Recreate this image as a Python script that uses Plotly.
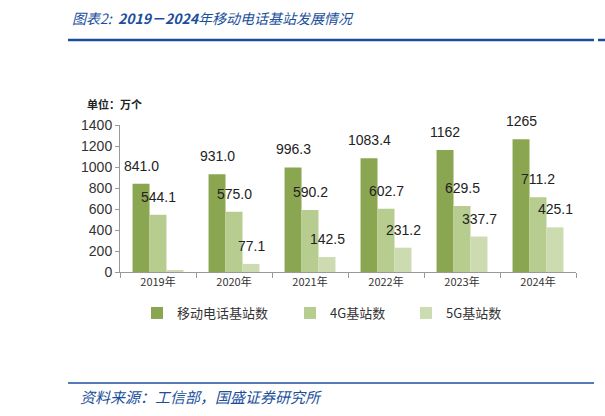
import plotly.graph_objects as go

years = ["2019年", "2020年", "2021年", "2022年", "2023年", "2024年"]
mobile = [841.0, 931.0, 996.3, 1083.4, 1162, 1265]
g4 = [544.1, 575.0, 590.2, 602.7, 629.5, 711.2]
g5 = [13, 77.1, 142.5, 231.2, 337.7, 425.1]
mobile_lbl = ["841.0", "931.0", "996.3", "1083.4", "1162", "1265"]
g4_lbl = ["544.1", "575.0", "590.2", "602.7", "629.5", "711.2"]
g5_lbl = ["", "77.1", "142.5", "231.2", "337.7", "425.1"]
names = ["移动电话基站数", "4G基站数", "5G基站数"]
colors = ["#8BA650", "#B7CD8F", "#CCDBB0"]

FONT = "Liberation Sans, Noto Sans CJK SC"
CJK = "Noto Sans CJK SC"
BLUE = "#1B4F9C"

fig = go.Figure()
series = [mobile, g4, g5]
labels = [mobile_lbl, g4_lbl, g5_lbl]
legends = ["legend", "legend2", "legend3"]
for i in range(3):
    fig.add_trace(go.Bar(x=years, y=series[i], name=names[i], marker_color=colors[i],
                         marker_line_width=0, legend=legends[i]))

shifts = [-17, 0, 17]
for i in range(3):
    for x, v, t in zip(years, series[i], labels[i]):
        if t:
            fig.add_annotation(x=x, y=v, text=t, showarrow=False, xshift=shifts[i],
                               yanchor="bottom", yshift=8,
                               font=dict(size=14, color="#222", family=FONT))

fig.update_layout(
    width=605, height=416,
    margin=dict(l=120, r=29, t=125, b=144, autoexpand=False),
    paper_bgcolor="white", plot_bgcolor="white",
    barmode="group", bargap=0.33, bargroupgap=0,
    font=dict(family=FONT, color="#333"),
    showlegend=True,
)
legend_x = [137, 290, 406]
for lg, lx in zip(legends, legend_x):
    fig.update_layout({lg: dict(x=lx / 605, y=1 - 313 / 416, xref="container", yref="container",
                                xanchor="left", yanchor="middle",
                                orientation="h", font=dict(size=13, family=CJK, color="#333"),
                                bgcolor="rgba(0,0,0,0)", itemwidth=30, tracegroupgap=0)})

fig.update_yaxes(range=[0, 1400], dtick=200, showline=True, linecolor="#999", linewidth=1,
                 ticks="outside", ticklen=4, tickcolor="#999", showgrid=False, zeroline=False,
                 automargin=False, tickfont=dict(size=14, color="#333", family=FONT))
fig.update_xaxes(showline=True, linecolor="#999", linewidth=1, ticks="outside", ticklen=5,
                 tickcolor="#999", tickson="boundaries", showgrid=False, automargin=False,
                 tickfont=dict(size=11, color="#333", family=CJK))

# header / footer
fig.add_annotation(xref="paper", yref="paper", x=-35/456, y=1 + 21/147, xanchor="left", yanchor="middle",
                   text="<b>单位：万个</b>", showarrow=False, font=dict(size=11, color="#222", family=CJK))
fig.add_annotation(xref="paper", yref="paper", x=-50/456, y=1 + (125 - 18) / 147, xanchor="left", yanchor="middle",
                   text="<i>图表2:  <b>2019－2024</b>年移动电话基站发展情况</i>", showarrow=False,
                   font=dict(size=14, color=BLUE, family=CJK))
fig.add_annotation(xref="paper", yref="paper", x=-42/456, y=1 - (396 - 125) / 147, xanchor="left", yanchor="middle",
                   text="<i>资料来源：工信部，国盛证券研究所</i>", showarrow=False,
                   font=dict(size=15, color=BLUE, family=CJK))
fig.add_shape(type="line", xref="paper", yref="paper", x0=(68 - 120) / 456, x1=(594 - 120) / 456,
              y0=1 + (125 - 40) / 147, y1=1 + (125 - 40) / 147, line=dict(color=BLUE, width=2.5))
fig.add_shape(type="line", xref="paper", yref="paper", x0=(598 - 120) / 456, x1=(605 - 120) / 456,
              y0=1 + (125 - 40) / 147, y1=1 + (125 - 40) / 147, line=dict(color=BLUE, width=2.5))
fig.add_shape(type="line", xref="paper", yref="paper", x0=(68 - 120) / 456, x1=(594 - 120) / 456,
              y0=1 - (383 - 125) / 147, y1=1 - (383 - 125) / 147, line=dict(color=BLUE, width=1.5))

fig.write_html("out.html", config={"displayModeBar": False},
               post_script="document.body.style.margin='0';document.body.style.overflow='hidden';")
